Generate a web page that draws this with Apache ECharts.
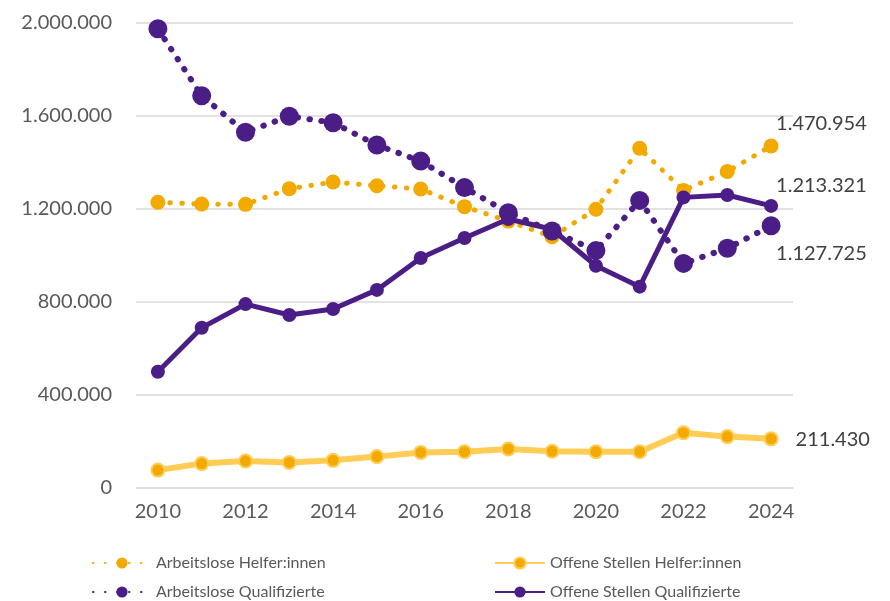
<!DOCTYPE html>
<html><head><meta charset="utf-8">
<script src="https://cdn.jsdelivr.net/npm/echarts@6/dist/echarts.min.js"></script>
<style>html,body{margin:0;padding:0;background:#fff}#c{width:890px;height:601px}</style>
</head><body><div id="c"></div>
<script>
const years = ['2010','2011','2012','2013','2014','2015','2016','2017','2018','2019','2020','2021','2022','2023','2024'];
const arbeitsloseHelfer = [1229000,1221000,1220000,1287000,1316000,1300000,1286000,1210000,1148000,1081000,1199000,1461000,1280000,1361000,1470954];
const offeneHelfer = [77000,105000,116000,110000,119000,135000,153000,156000,168000,158000,156000,156000,238000,221000,211430];
const arbeitsloseQuali = [1975000,1687000,1530000,1599000,1571000,1475000,1406000,1292000,1184000,1105000,1021000,1237000,966000,1031000,1127725];
const offeneQuali = [500000,689000,791000,744000,770000,852000,989000,1075000,1157000,1113000,956000,866000,1250000,1260000,1213321];
const yTicks = {min:0, max:2000000, interval:400000};

const PURPLE = '#4B1D87', YEL = '#F2A900', LYEL = '#FFCC55';
const fmt = v => String(Math.round(v)).replace(/\B(?=(\d{3})+(?!\d))/g, '.');
function withLabel(arr, offset){
  return arr.map((v,i)=> i===arr.length-1 ? {value:v, label:{show:true, position:'right', distance:0, offset:offset, formatter:p=>fmt(p.value), fontFamily:'Lato', fontSize:20, color:'#404040'}} : v);
}
function leg(name, left, top, w){
  return {data:[name], left:left, top:top, padding:0, itemWidth:w, itemHeight:14,
    textStyle:{fontFamily:'Lato', fontSize:16, color:'#595959'}};
}
const chart = echarts.init(document.getElementById('c'), null, {renderer:'canvas'});
chart.setOption({
  animation:false,
  grid:{left:136, right:97, top:23, bottom:113, containLabel:false},
  xAxis:{type:'category', data:years, boundaryGap:true,
    axisLine:{lineStyle:{color:'#d9d9d9', width:1.5}}, axisTick:{show:false},
    axisLabel:{interval:1, color:'#595959', fontFamily:'Lato', fontSize:20, margin:14}},
  yAxis:{type:'value', min:yTicks.min, max:yTicks.max, interval:yTicks.interval,
    axisLine:{show:false}, axisTick:{show:false},
    splitLine:{lineStyle:{color:'#d9d9d9', width:1.5}},
    axisLabel:{color:'#595959', fontFamily:'Lato', fontSize:20, margin:24, formatter:v=>fmt(v)}},
  legend:[
    leg('Arbeitslose Helfer:innen', 92, 555, 58),
    leg('Arbeitslose Qualifizierte', 92, 584, 58),
    leg('Offene Stellen Helfer:innen', 494, 555, 50),
    leg('Offene Stellen Qualifizierte', 494, 584, 50)
  ],
  series:[
    {name:'Arbeitslose Helfer:innen', type:'line', data:withLabel(arbeitsloseHelfer,[-2.5,-22.5]),
      symbol:'circle', symbolSize:15, itemStyle:{color:YEL},
      lineStyle:{color:YEL, width:5, type:[0.5,11.5], cap:'round'}, z:2},
    {name:'Offene Stellen Helfer:innen', type:'line', data:withLabel(offeneHelfer,[17,1]),
      symbol:'circle', symbolSize:13, itemStyle:{color:YEL, borderColor:LYEL, borderWidth:2},
      lineStyle:{color:LYEL, width:6}, z:2},
    {name:'Arbeitslose Qualifizierte', type:'line', data:withLabel(arbeitsloseQuali,[-4.5,27.5]),
      symbol:'circle', symbolSize:19, itemStyle:{color:PURPLE},
      lineStyle:{color:PURPLE, width:6, type:[0.5,11.5], cap:'round'}, z:3},
    {name:'Offene Stellen Qualifizierte', type:'line', data:withLabel(offeneQuali,[-2,-20]),
      symbol:'circle', symbolSize:14, itemStyle:{color:PURPLE},
      lineStyle:{color:PURPLE, width:5}, z:4}
  ]
});
</script></body></html>
